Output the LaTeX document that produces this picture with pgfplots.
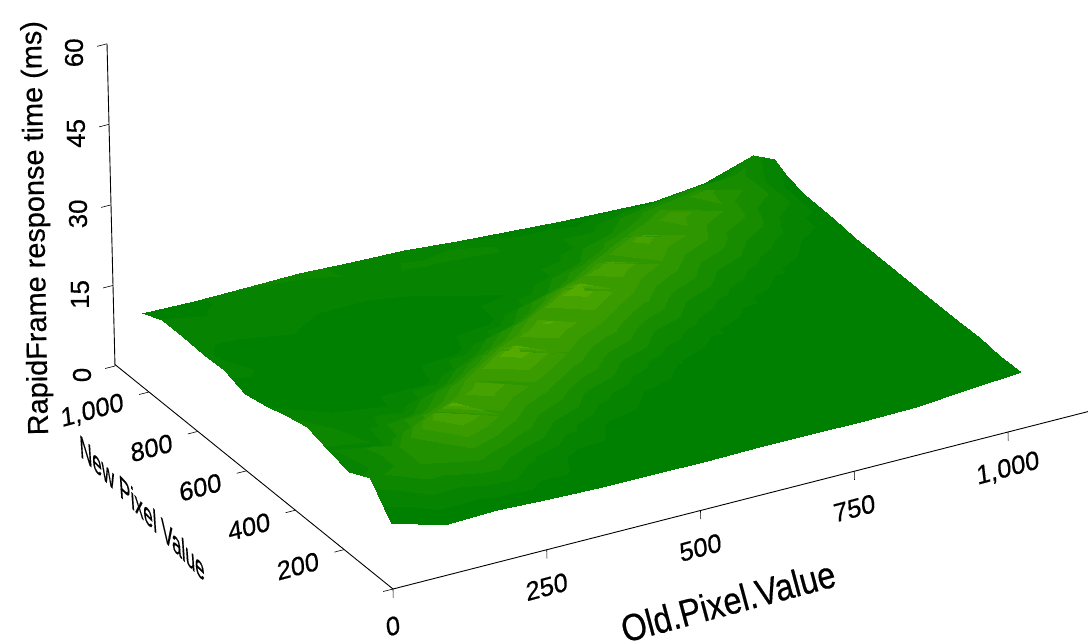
\documentclass[border=0pt]{standalone}
\usepackage{pgfplots}
\pgfplotsset{compat=1.18}
\usepackage{fontspec}
\setmainfont{Liberation Sans}[FakeBold=0.4]
\pgfplotsset{
  colormap={bands}{rgb255=(0,128,0) rgb255=(6,131,0) rgb255=(14,135,0) rgb255=(24,140,0) rgb255=(34,145,0) rgb255=(46,150,0) rgb255=(58,155,0) rgb255=(70,162,0) rgb255=(85,170,0)},
}
\begin{document}
\begin{tikzpicture}
\begin{axis}[
  anchor=origin, at={(0,0)},
  x={(0.615bp,0.157bp)}, y={(-0.244bp,0.197bp)}, z={(-0.133bp,5.37bp)},
  xmin=0, xmax=1130, ymin=0, ymax=1140, zmin=0, zmax=60,
  clip=false,
  axis x line=bottom, axis y line=left, axis z line=none,
  axis line style={black, line width=0.9bp, -},
  major tick length=0pt,
  xtick={0,250,500,750,1000}, xticklabels={0,250,500,750,{1,000}},
  ytick={0,200,400,600,800,1000}, yticklabels={,200,400,600,800,{1,000}},
  ztick=\empty,
  xticklabel style={font=\fontsize{26}{26}\selectfont, anchor=center, yshift=-37bp, rotate=15, xslant=0.15},
  yticklabel style={font=\fontsize{26}{26}\selectfont, anchor=east, xshift=-22bp, yshift=-10bp, rotate=15, xslant=0.15},
  xlabel={Old.Pixel.Value},
  xlabel style={font=\fontsize{38}{38}\selectfont, at={(axis cs:541,0,-18.1)}, anchor=center, rotate=15, xscale=0.86},
  ylabel={New Pixel Value},
  ylabel style={font=\fontsize{30}{30}\selectfont, at={(axis cs:0,1041,-23.1)}, anchor=center, rotate=0, yslant=-1.014, xscale=0.58, xslant=-0.12},
  colormap name=bands, colormap access=piecewise constant,
  point meta min=11, point meta max=23,
]
\addplot3[black, line width=0.6bp, no marks, forget plot] coordinates {(0,0,0) (0,0,-1.6)};
\addplot3[black, line width=0.6bp, no marks, forget plot] coordinates {(250,0,0) (250,0,-1.6)};
\addplot3[black, line width=0.6bp, no marks, forget plot] coordinates {(500,0,0) (500,0,-1.6)};
\addplot3[black, line width=0.6bp, no marks, forget plot] coordinates {(750,0,0) (750,0,-1.6)};
\addplot3[black, line width=0.6bp, no marks, forget plot] coordinates {(1000,0,0) (1000,0,-1.6)};
\addplot3[black, line width=0.6bp, no marks, forget plot] coordinates {(0,0,0) (-16,0,0)};
\addplot3[black, line width=0.6bp, no marks, forget plot] coordinates {(0,200,0) (-16,200,0)};
\addplot3[black, line width=0.6bp, no marks, forget plot] coordinates {(0,400,0) (-16,400,0)};
\addplot3[black, line width=0.6bp, no marks, forget plot] coordinates {(0,600,0) (-16,600,0)};
\addplot3[black, line width=0.6bp, no marks, forget plot] coordinates {(0,800,0) (-16,800,0)};
\addplot3[black, line width=0.6bp, no marks, forget plot] coordinates {(0,1000,0) (-16,1000,0)};
\addplot3[surf, shader=interp, z buffer=sort, mesh/rows=13, mesh/ordering=x varies, point meta={z-3*max(0,1-x/171)}] coordinates {
(0,0,12.3) (85,0,9.5) (171,0,9.7) (256,0,9.2) (341,0,9.0) (426,0,8.9) (512,0,8.8) (597,0,8.9) (682,0,8.9) (767,0,8.9) (853,0,8.9) (938,0,9.9) (1023,0,10.5)

(0,85,17.5) (85,85,18) (171,85,17) (256,85,14) (341,85,11.8) (426,85,10.3) (512,85,9.6) (597,85,9.3) (682,85,9.3) (767,85,9.3) (853,85,9.4) (938,85,10) (1023,85,10.4)

(0,171,15.6) (85,171,18) (171,171,23.5) (256,171,18.5) (341,171,14.5) (426,171,12) (512,171,10.6) (597,171,9.9) (682,171,9.6) (767,171,9.6) (853,171,9.7) (938,171,10.2) (1023,171,10.7)

(0,256,16.5) (85,256,15) (171,256,18.5) (256,256,21.5) (341,256,18.5) (426,256,14.5) (512,256,12.3) (597,256,10.8) (682,256,10) (767,256,9.9) (853,256,9.9) (938,256,10.2) (1023,256,10.6)

(0,341,17.6) (85,341,14.5) (171,341,15) (256,341,19) (341,341,23) (426,341,18.8) (512,341,14.8) (597,341,12.5) (682,341,11) (767,341,10.2) (853,341,10.1) (938,341,10.3) (1023,341,10.5)

(0,426,16.5) (85,426,14) (171,426,12.5) (256,426,15) (341,426,19) (426,426,22) (512,426,19) (597,426,15) (682,426,12.7) (767,426,11.2) (853,426,10.5) (938,426,10.4) (1023,426,10.5)

(0,512,15.3) (85,512,13.5) (171,512,12) (256,512,12) (341,512,15) (426,512,19) (512,512,23.2) (597,512,19) (682,512,15) (767,512,12.8) (853,512,11.2) (938,512,10.6) (1023,512,10.5)

(0,597,14.4) (85,597,13) (171,597,11.8) (256,597,11.5) (341,597,12) (426,597,14.5) (512,597,19) (597,597,21.7) (682,597,18.8) (767,597,15) (853,597,12.7) (938,597,11) (1023,597,10.6)

(0,682,15.8) (85,682,13.5) (171,682,12) (256,682,11.4) (341,682,11.5) (426,682,12) (512,682,14.5) (597,682,18) (682,682,21) (767,682,18.5) (853,682,14.8) (938,682,12.3) (1023,682,10.7)

(0,767,15.4) (85,767,13.5) (171,767,12) (256,767,11.4) (341,767,11.5) (426,767,11.8) (512,767,12.5) (597,767,14.5) (682,767,17.5) (767,767,19.7) (853,767,17.5) (938,767,13.5) (1023,767,10.9)

(0,853,15.6) (85,853,14) (171,853,12.5) (256,853,12) (341,853,12) (426,853,12.8) (512,853,12.5) (597,853,13) (682,853,14.5) (767,853,17) (853,853,18) (938,853,15.5) (1023,890,11)

(0,938,15.6) (85,938,14) (171,938,13) (256,938,13) (341,938,13.5) (426,938,13.8) (512,938,14) (597,938,13) (682,938,12.8) (767,938,14) (853,938,15) (938,938,15.5) (1023,960,12)

(0,1023,13.9) (85,1023,13.6) (171,1023,13.7) (256,1023,13.9) (341,1023,13.4) (426,1023,13.1) (512,1023,12.3) (597,1023,11.7) (682,1023,11.1) (832,1023,10.4) (914,1023,11.4) (995,1023,14.2) (1023,1008,13.2)
};
\end{axis}
\begin{axis}[
  anchor=origin, at={(-278bp,223bp)},
  x={(0.615bp,0.157bp)}, y={(0.244bp,-0.197bp)}, z={(-0.133bp,5.37bp)},
  xmin=0, xmax=10, ymin=0, ymax=10, zmin=0, zmax=60,
  clip=false,
  axis x line=none, axis y line=none, axis z line=left,
  axis line style={black, line width=0.9bp, -},
  major tick length=0pt,
  xtick=\empty, ytick=\empty,
  ztick={0,15,30,45,60}, zticklabels={0,15,30,45,60},
  zticklabel style={font=\fontsize{26}{26}\selectfont, anchor=center, xshift=-33bp, yshift=-9bp, rotate=90},
  zlabel={RapidFrame response time (ms)},
  zlabel style={font=\fontsize{29}{29}\selectfont, at={(axis cs:-120.5,0,29.2)}, anchor=center, rotate=1},
]
\addplot3[black, line width=0.6bp, no marks, forget plot] coordinates {(0,0,0) (-16,0,0)};
\addplot3[black, line width=0.6bp, no marks, forget plot] coordinates {(0,0,15) (-16,0,15)};
\addplot3[black, line width=0.6bp, no marks, forget plot] coordinates {(0,0,30) (-16,0,30)};
\addplot3[black, line width=0.6bp, no marks, forget plot] coordinates {(0,0,45) (-16,0,45)};
\addplot3[black, line width=0.6bp, no marks, forget plot] coordinates {(0,0,60) (-16,0,60)};
\end{axis}
\pgfresetboundingbox
\path[use as bounding box] (-393bp,-52bp) rectangle (695bp,589bp);
\end{tikzpicture}
\end{document}
